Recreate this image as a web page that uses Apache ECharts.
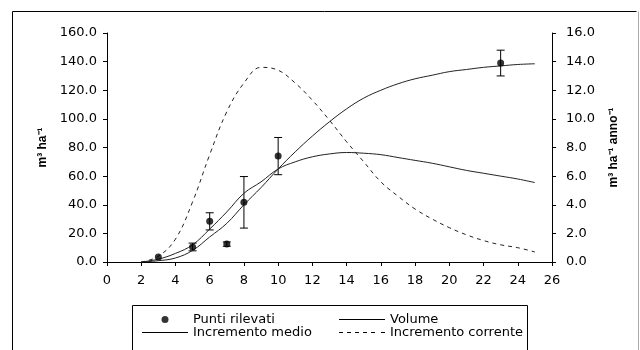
<!DOCTYPE html>
<html>
<head>
<meta charset="utf-8">
<script src="https://cdn.jsdelivr.net/npm/echarts@6/dist/echarts.min.js"></script>
<style>
    html, body { margin: 0; padding: 0; background: #fff; }
    #main { width: 640px; height: 350px; }
</style>
</head>
<body>
<div id="main"></div>
<script>
// eta (anni)
var ages = [2, 3, 4, 5, 6, 7, 8, 9, 10, 11, 12, 13, 14, 15, 16, 17, 18, 19, 20, 21, 22, 23, 24, 25];
// Volume, m3/ha (asse sinistro)
var volume = [0, 0.9, 2.8, 8.1, 17.5, 27, 40, 52, 65, 77, 88, 98, 107, 114.5, 120, 124.5, 128, 130.5, 133, 134.5, 136, 137, 138, 138.5];
// Incremento medio, m3/ha/anno (asse destro)
var incrMedio = [0, 0.2, 0.6, 1.2, 2.3, 3.5, 4.8, 5.6, 6.5, 7.0, 7.35, 7.55, 7.65, 7.6, 7.5, 7.3, 7.1, 6.9, 6.65, 6.4, 6.2, 6.0, 5.8, 5.55];
// Incremento corrente, m3/ha/anno (asse destro)
var incrCorrente = [0, 0.4, 1.6, 4.2, 7.5, 10.5, 12.5, 13.6, 13.4, 12.5, 11.3, 9.9, 8.4, 7.0, 5.6, 4.6, 3.7, 3.0, 2.4, 1.9, 1.5, 1.2, 1.0, 0.7];
// Punti rilevati con errore
var puntiEta = [3, 5, 6, 7, 8, 10, 23];
var puntiVol = [3.5, 10.5, 28.4, 12.5, 41.7, 74, 139];
var puntiErr = [0, 2.7, 6, 1.5, 18, 13, 9];

function pairs(xs, ys) {
    var out = [];
    for (var i = 0; i < xs.length; i++) {
        out.push([xs[i], ys[i]]);
    }
    return out;
}

var errData = [];
for (var i = 0; i < puntiEta.length; i++) {
    errData.push([puntiEta[i], puntiVol[i] - puntiErr[i], puntiVol[i] + puntiErr[i]]);
}

function renderErr(params, api) {
    var lo = api.coord([api.value(0), api.value(1)]);
    var hi = api.coord([api.value(0), api.value(2)]);
    if (Math.abs(lo[1] - hi[1]) < 1) return null;
    var w = 4;
    var st = { stroke: '#000', lineWidth: 1 };
    return {
        type: 'group',
        children: [
            { type: 'line', shape: { x1: lo[0], y1: lo[1], x2: hi[0], y2: hi[1] }, style: st },
            { type: 'line', shape: { x1: lo[0] - w, y1: lo[1], x2: lo[0] + w, y2: lo[1] }, style: st },
            { type: 'line', shape: { x1: hi[0] - w, y1: hi[1], x2: hi[0] + w, y2: hi[1] }, style: st }
        ]
    };
}

var font = 'Liberation Sans, Arial, sans-serif';
var wideFont = 'DejaVu Sans, sans-serif';
var axisLine = { show: true, lineStyle: { color: '#000', width: 1 } };
var axisTick = { show: true, length: 4, lineStyle: { color: '#000' } };
var legendText = { fontSize: 13, fontFamily: wideFont, color: '#000', lineHeight: 13 };
// icone della legenda: linea continua e tratteggiata
var iconSolid = 'path://M0,0H46V1H0Z';
var iconDash = 'path://M0,0H4V1H0Z M8,0H12V1H8Z M16,0H20V1H16Z M24,0H28V1H24Z M32,0H36V1H32Z M42,0H46V1H42Z';

var myChart = echarts.init(document.getElementById('main'));
var option = {
    backgroundColor: '#fff',
    animation: false,
    textStyle: { fontFamily: font },
    grid: {
        left: 107,
        right: 88,
        top: 33,
        bottom: 88
    },
    legend: [
        {
            left: 137,
            top: 308,
            orient: 'vertical',
            itemWidth: 46,
            itemHeight: 7,
            itemGap: 0,
            textStyle: legendText,
            data: [
                { name: 'Punti rilevati' },
                { name: 'Incremento medio', icon: iconSolid, itemStyle: { color: '#000' } }
            ]
        },
        {
            left: 334,
            top: 308,
            orient: 'vertical',
            itemWidth: 46,
            itemHeight: 7,
            itemGap: 0,
            textStyle: legendText,
            data: [
                { name: 'Volume', icon: iconSolid, itemStyle: { color: '#000' } },
                { name: 'Incremento corrente', icon: iconDash, itemStyle: { color: '#000' } }
            ]
        }
    ],
    xAxis: {
        type: 'value',
        min: 0,
        max: 26,
        interval: 2,
        axisLine: axisLine,
        axisTick: axisTick,
        splitLine: { show: false },
        axisLabel: { color: '#000', fontSize: 13, fontFamily: wideFont, margin: 12 }
    },
    yAxis: [
        {
            type: 'value',
            min: 0,
            max: 160,
            interval: 20,
            name: 'm³ ha⁻¹',
            nameLocation: 'middle',
            nameRotate: 90,
            nameGap: 58,
            nameTextStyle: { color: '#000', fontSize: 12, fontWeight: 'bold' },
            axisLine: axisLine,
            axisTick: axisTick,
            splitLine: { show: false },
            axisLabel: {
                color: '#000', fontSize: 13, fontFamily: wideFont, margin: 10,
                formatter: function (v) { return v.toFixed(1); }
            }
        },
        {
            type: 'value',
            min: 0,
            max: 16,
            interval: 2,
            position: 'right',
            name: 'm³ ha⁻¹ anno⁻¹',
            nameLocation: 'middle',
            nameRotate: 90,
            nameGap: 56,
            nameTextStyle: { color: '#000', fontSize: 12, fontWeight: 'bold' },
            axisLine: axisLine,
            axisTick: axisTick,
            splitLine: { show: false },
            axisLabel: {
                color: '#000', fontSize: 13, fontFamily: wideFont, margin: 14,
                formatter: function (v) { return v.toFixed(1); }
            }
        }
    ],
    series: [
        {
            name: 'Volume',
            type: 'line',
            yAxisIndex: 0,
            smooth: 0.4,
            showSymbol: false,
            symbol: 'none',
            lineStyle: { color: '#222', width: 1 },
            itemStyle: { color: '#222' },
            data: pairs(ages, volume)
        },
        {
            name: 'Incremento medio',
            type: 'line',
            yAxisIndex: 1,
            smooth: 0.4,
            showSymbol: false,
            symbol: 'none',
            lineStyle: { color: '#222', width: 1 },
            itemStyle: { color: '#222' },
            data: pairs(ages, incrMedio)
        },
        {
            name: 'Incremento corrente',
            type: 'line',
            yAxisIndex: 1,
            smooth: 0.4,
            showSymbol: false,
            symbol: 'none',
            lineStyle: { color: '#222', width: 1, type: [4, 4] },
            itemStyle: { color: '#222' },
            data: pairs(ages, incrCorrente)
        },
        {
            name: 'errori',
            type: 'custom',
            yAxisIndex: 0,
            renderItem: renderErr,
            encode: { x: 0, y: [1, 2] },
            z: 3,
            data: errData
        },
        {
            name: 'Punti rilevati',
            type: 'scatter',
            yAxisIndex: 0,
            symbol: 'circle',
            symbolSize: 7,
            itemStyle: { color: '#000' },
            z: 4,
            data: pairs(puntiEta, puntiVol)
        }
    ],
    graphic: [
        {
            type: 'polyline',
            shape: { points: [[12.5, 360], [12.5, 11.5], [636.5, 11.5]] },
            style: { stroke: '#000', fill: null, lineWidth: 1 }
        },
        {
            type: 'line',
            shape: { x1: 638.5, y1: 11.5, x2: 638.5, y2: 360 },
            style: { stroke: '#aaa', lineWidth: 1 }
        },
        {
            type: 'rect',
            shape: { x: 132.5, y: 305.5, width: 395, height: 60 },
            style: { stroke: '#000', fill: null, lineWidth: 1 }
        }
    ]
};
myChart.setOption(option);
</script>
</body>
</html>
